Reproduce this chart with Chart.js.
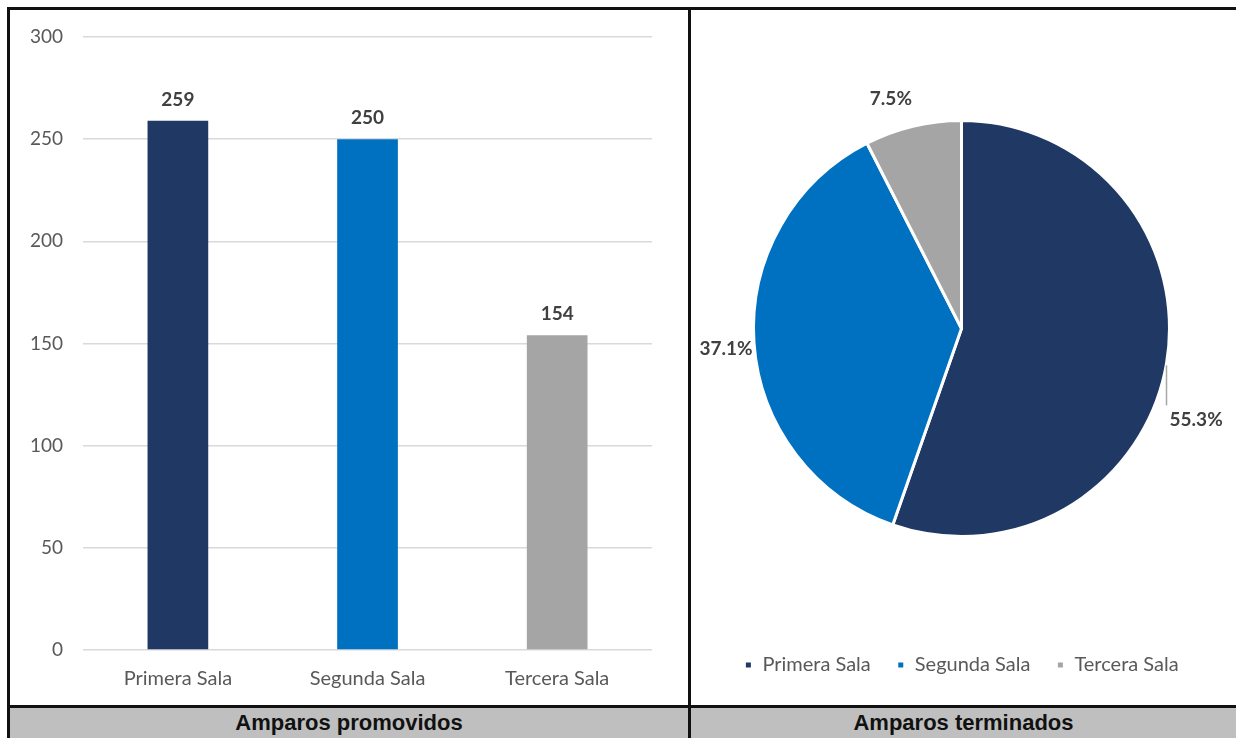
<!DOCTYPE html>
<html>
<head>
<meta charset="utf-8">
<script src="https://cdn.jsdelivr.net/npm/chart.js@4.4.1/dist/chart.umd.min.js"></script>
<style>
  body { margin: 0; background: #fff; width: 1236px; height: 738px; overflow: hidden; position: relative; }
  .line { position: absolute; background: #111; }
  .panel { position: absolute; }
  .band { position: absolute; left: 9px; top: 707px; width: 1227px; height: 31px; background: #bfbfbf; }
  .title { position: absolute; top: 708px; height: 30px; line-height: 30px; text-align: center;
           font-family: "Liberation Sans", Arial, sans-serif; font-weight: bold; font-size: 22px; color: #111; }
</style>
</head>
<body>
  <div class="band"></div>
  <div class="line" style="left:7px;top:7px;width:1229px;height:2.5px"></div>
  <div class="line" style="left:7px;top:7px;width:2.5px;height:731px"></div>
  <div class="line" style="left:688px;top:7px;width:2.5px;height:731px"></div>
  <div class="line" style="left:7px;top:705px;width:1229px;height:2.5px"></div>
  <div class="panel" style="left:10px;top:10px;width:678px;height:695px"><canvas id="barras"></canvas></div>
  <div class="panel" style="left:691px;top:10px;width:545px;height:695px"><canvas id="pastel"></canvas></div>
  <div class="title" style="left:10px;width:678px">Amparos promovidos</div>
  <div class="title" style="left:691px;width:545px">Amparos terminados</div>
<script>
const salas = ["Primera Sala", "Segunda Sala", "Tercera Sala"];
const promovidos = [259, 250, 154];
const terminadosPct = [55.3, 37.1, 7.5];
const colores = ["#203864", "#0070c0", "#a5a5a5"];
const ticksY = [0, 50, 100, 150, 200, 250, 300];

const fuente = "Lato, 'Noto Sans', sans-serif";

// etiquetas de valor sobre las barras
const etiquetasBarras = {
  id: "etiquetasBarras",
  afterDatasetsDraw(chart) {
    const ctx = chart.ctx;
    const meta = chart.getDatasetMeta(0);
    ctx.save();
    ctx.font = "bold 19px " + fuente;
    ctx.fillStyle = "#404040";
    ctx.textAlign = "center";
    ctx.textBaseline = "middle";
    meta.data.forEach((bar, i) => {
      ctx.fillText(chart.data.datasets[0].data[i], bar.x, bar.y - 21);
    });
    ctx.restore();
  }
};

// etiquetas de porcentaje fuera del pastel
const etiquetasPastel = {
  id: "etiquetasPastel",
  afterDatasetsDraw(chart) {
    const ctx = chart.ctx;
    const meta = chart.getDatasetMeta(0);
    const moverX = [0, 2, -15];
    const bajar = [52, 4, 2];
    ctx.save();
    ctx.font = "bold 19px " + fuente;
    ctx.fillStyle = "#404040";
    ctx.textAlign = "center";
    ctx.textBaseline = "middle";
    meta.data.forEach((arc, i) => {
      const a = (arc.startAngle + arc.endAngle) / 2;
      const r = arc.outerRadius + 30;
      const x = arc.x + Math.cos(a) * r + moverX[i];
      const y = arc.y + Math.sin(a) * r + bajar[i];
      if (bajar[i] > 20) {
        ctx.strokeStyle = "#a6a6a6";
        ctx.lineWidth = 1.5;
        ctx.beginPath();
        ctx.moveTo(arc.x + arc.outerRadius - 3, y - 55);
        ctx.lineTo(arc.x + arc.outerRadius - 3, y - 15);
        ctx.stroke();
      }
      ctx.fillText(terminadosPct[i].toFixed(1) + "%", x, y);
    });
    ctx.restore();
  }
};

new Chart(document.getElementById("barras"), {
  type: "bar",
  data: {
    labels: salas,
    datasets: [{
      data: promovidos,
      backgroundColor: colores,
      barPercentage: 0.32,
      categoryPercentage: 1
    }]
  },
  options: {
    responsive: true,
    maintainAspectRatio: false,
    animation: false,
    layout: { padding: { top: 27, left: 0, right: 36, bottom: -3 } },
    plugins: { legend: { display: false }, tooltip: { enabled: false } },
    scales: {
      x: {
        grid: { display: false, drawTicks: false },
        border: { display: false },
        ticks: { color: "#595959", font: { family: fuente, size: 20 }, padding: 17 }
      },
      y: {
        min: 0,
        max: 300,
        afterBuildTicks: axis => { axis.ticks = ticksY.map(v => ({ value: v })); },
        afterFit: axis => { axis.paddingTop = 0; },
        grid: { color: "#d9d9d9", lineWidth: 1.5, drawTicks: false },
        border: { display: false },
        ticks: { color: "#595959", font: { family: fuente, size: 19 }, padding: 20 }
      }
    }
  },
  plugins: [etiquetasBarras]
});

new Chart(document.getElementById("pastel"), {
  type: "pie",
  data: {
    labels: salas,
    datasets: [{
      data: terminadosPct,
      backgroundColor: colores,
      borderColor: "#ffffff",
      borderWidth: 3,
      radius: 208
    }]
  },
  options: {
    responsive: true,
    maintainAspectRatio: false,
    animation: false,
    layout: { padding: { top: 18, bottom: 20, right: 4 } },
    plugins: {
      tooltip: { enabled: false },
      legend: {
        position: "bottom",
        labels: {
          usePointStyle: true,
          pointStyle: "rect",
          boxWidth: 8,
          boxHeight: 8,
          padding: 26,
          color: "#595959",
          font: { family: fuente, size: 20 }
        }
      }
    }
  },
  plugins: [etiquetasPastel]
});
</script>
</body>
</html>
